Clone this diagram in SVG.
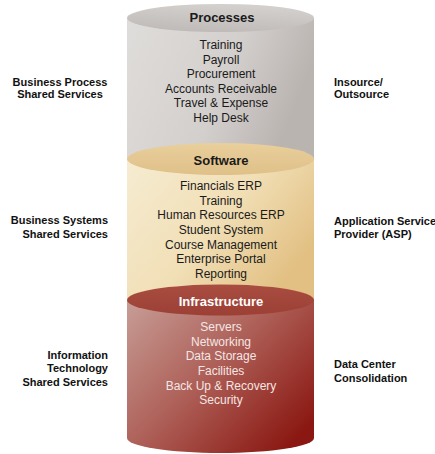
<svg xmlns="http://www.w3.org/2000/svg" width="435" height="454" viewBox="0 0 435 454">
  <defs>
    <linearGradient id="grayBody" x1="0" y1="0" x2="1" y2="0.3">
      <stop offset="0" stop-color="#dfdddb"/>
      <stop offset="0.6" stop-color="#d3cfcc"/>
      <stop offset="1" stop-color="#bab4b1"/>
    </linearGradient>
    <linearGradient id="grayTop" x1="0" y1="1" x2="0.3" y2="0">
      <stop offset="0" stop-color="#bdb8b5"/>
      <stop offset="1" stop-color="#d2cfcc"/>
    </linearGradient>
    <linearGradient id="softBody" x1="0" y1="0" x2="1" y2="0.6">
      <stop offset="0" stop-color="#f6ecd2"/>
      <stop offset="0.55" stop-color="#f1dfb6"/>
      <stop offset="1" stop-color="#e2c083"/>
    </linearGradient>
    <linearGradient id="softTop" x1="0" y1="0" x2="0" y2="1">
      <stop offset="0" stop-color="#e9cf9c"/>
      <stop offset="1" stop-color="#dfc088"/>
    </linearGradient>
    <linearGradient id="infraBody" x1="0" y1="0" x2="1" y2="0.8">
      <stop offset="0" stop-color="#c79e97"/>
      <stop offset="0.5" stop-color="#ad5f57"/>
      <stop offset="1" stop-color="#8a1711"/>
    </linearGradient>
    <linearGradient id="infraTop" x1="0" y1="0" x2="0" y2="1">
      <stop offset="0" stop-color="#a94d41"/>
      <stop offset="1" stop-color="#9c4035"/>
    </linearGradient>
  </defs>
  <style>
    .title { font-family: "Liberation Sans", Arial, sans-serif; font-size: 13px; font-weight: bold; text-anchor: middle; fill: #1a1a1a; }
    .item { font-family: "Liberation Sans", Arial, sans-serif; font-size: 12px; text-anchor: middle; fill: #1a1a1a; }
    .infra .title { fill: #ffffff; }
    .infra .item { fill: #f4e6e4; }
    .side { font-family: "Liberation Sans", Arial, sans-serif; font-size: 11px; font-weight: bold; fill: #111111; }
    .rt { text-anchor: end; }
    .mid { text-anchor: middle; }
  </style>

  <!-- Processes tier -->
  <g id="processes">
    <rect x="127" y="18" width="187" height="141" fill="url(#grayBody)"/>
    <ellipse cx="220.5" cy="18" rx="93.5" ry="14" fill="url(#grayTop)"/>
    <text class="title" x="222" y="22">Processes</text>
    <text class="item" x="221" y="49">Training</text>
    <text class="item" x="221" y="63.5">Payroll</text>
    <text class="item" x="221" y="78">Procurement</text>
    <text class="item" x="221" y="92.5">Accounts Receivable</text>
    <text class="item" x="221" y="107">Travel &amp; Expense</text>
    <text class="item" x="221" y="121.5">Help Desk</text>
  </g>

  <!-- Software tier -->
  <g id="software">
    <rect x="127" y="159" width="187" height="141" fill="url(#softBody)"/>
    <ellipse cx="220.5" cy="159" rx="93.5" ry="16" fill="url(#softTop)"/>
    <text class="title" x="221" y="164.5">Software</text>
    <text class="item" x="221" y="190">Financials ERP</text>
    <text class="item" x="221" y="205">Training</text>
    <text class="item" x="221" y="219">Human Resources ERP</text>
    <text class="item" x="221" y="234">Student System</text>
    <text class="item" x="221" y="249">Course Management</text>
    <text class="item" x="221" y="263">Enterprise Portal</text>
    <text class="item" x="221" y="277.5">Reporting</text>
  </g>

  <!-- Infrastructure tier -->
  <g id="infrastructure" class="infra">
    <path d="M127,300 L127,438 A93.5,15 0 0 0 314,438 L314,300 Z" fill="url(#infraBody)"/>
    <ellipse cx="220.5" cy="300" rx="93.5" ry="15.5" fill="url(#infraTop)"/>
    <text class="title" x="221" y="306">Infrastructure</text>
    <text class="item" x="221" y="331">Servers</text>
    <text class="item" x="221" y="346">Networking</text>
    <text class="item" x="221" y="360">Data Storage</text>
    <text class="item" x="221" y="375">Facilities</text>
    <text class="item" x="221" y="390">Back Up &amp; Recovery</text>
    <text class="item" x="221" y="404">Security</text>
  </g>

  <!-- Side labels -->
  <g id="label-bp">
    <text class="side mid" x="60" y="86">Business Process</text>
    <text class="side mid" x="60" y="98">Shared Services</text>
  </g>
  <g id="label-io">
    <text class="side" x="334" y="86">Insource/</text>
    <text class="side" x="334" y="98">Outsource</text>
  </g>
  <g id="label-bs">
    <text class="side rt" x="108" y="224">Business Systems</text>
    <text class="side rt" x="108" y="238">Shared Services</text>
  </g>
  <g id="label-asp">
    <text class="side" x="334" y="225">Application Service</text>
    <text class="side" x="334" y="238">Provider  (ASP)</text>
  </g>
  <g id="label-it">
    <text class="side rt" x="108" y="359">Information</text>
    <text class="side rt" x="108" y="372">Technology</text>
    <text class="side rt" x="108" y="386">Shared Services</text>
  </g>
  <g id="label-dc">
    <text class="side" x="334" y="368">Data Center</text>
    <text class="side" x="334" y="382">Consolidation</text>
  </g>
</svg>
